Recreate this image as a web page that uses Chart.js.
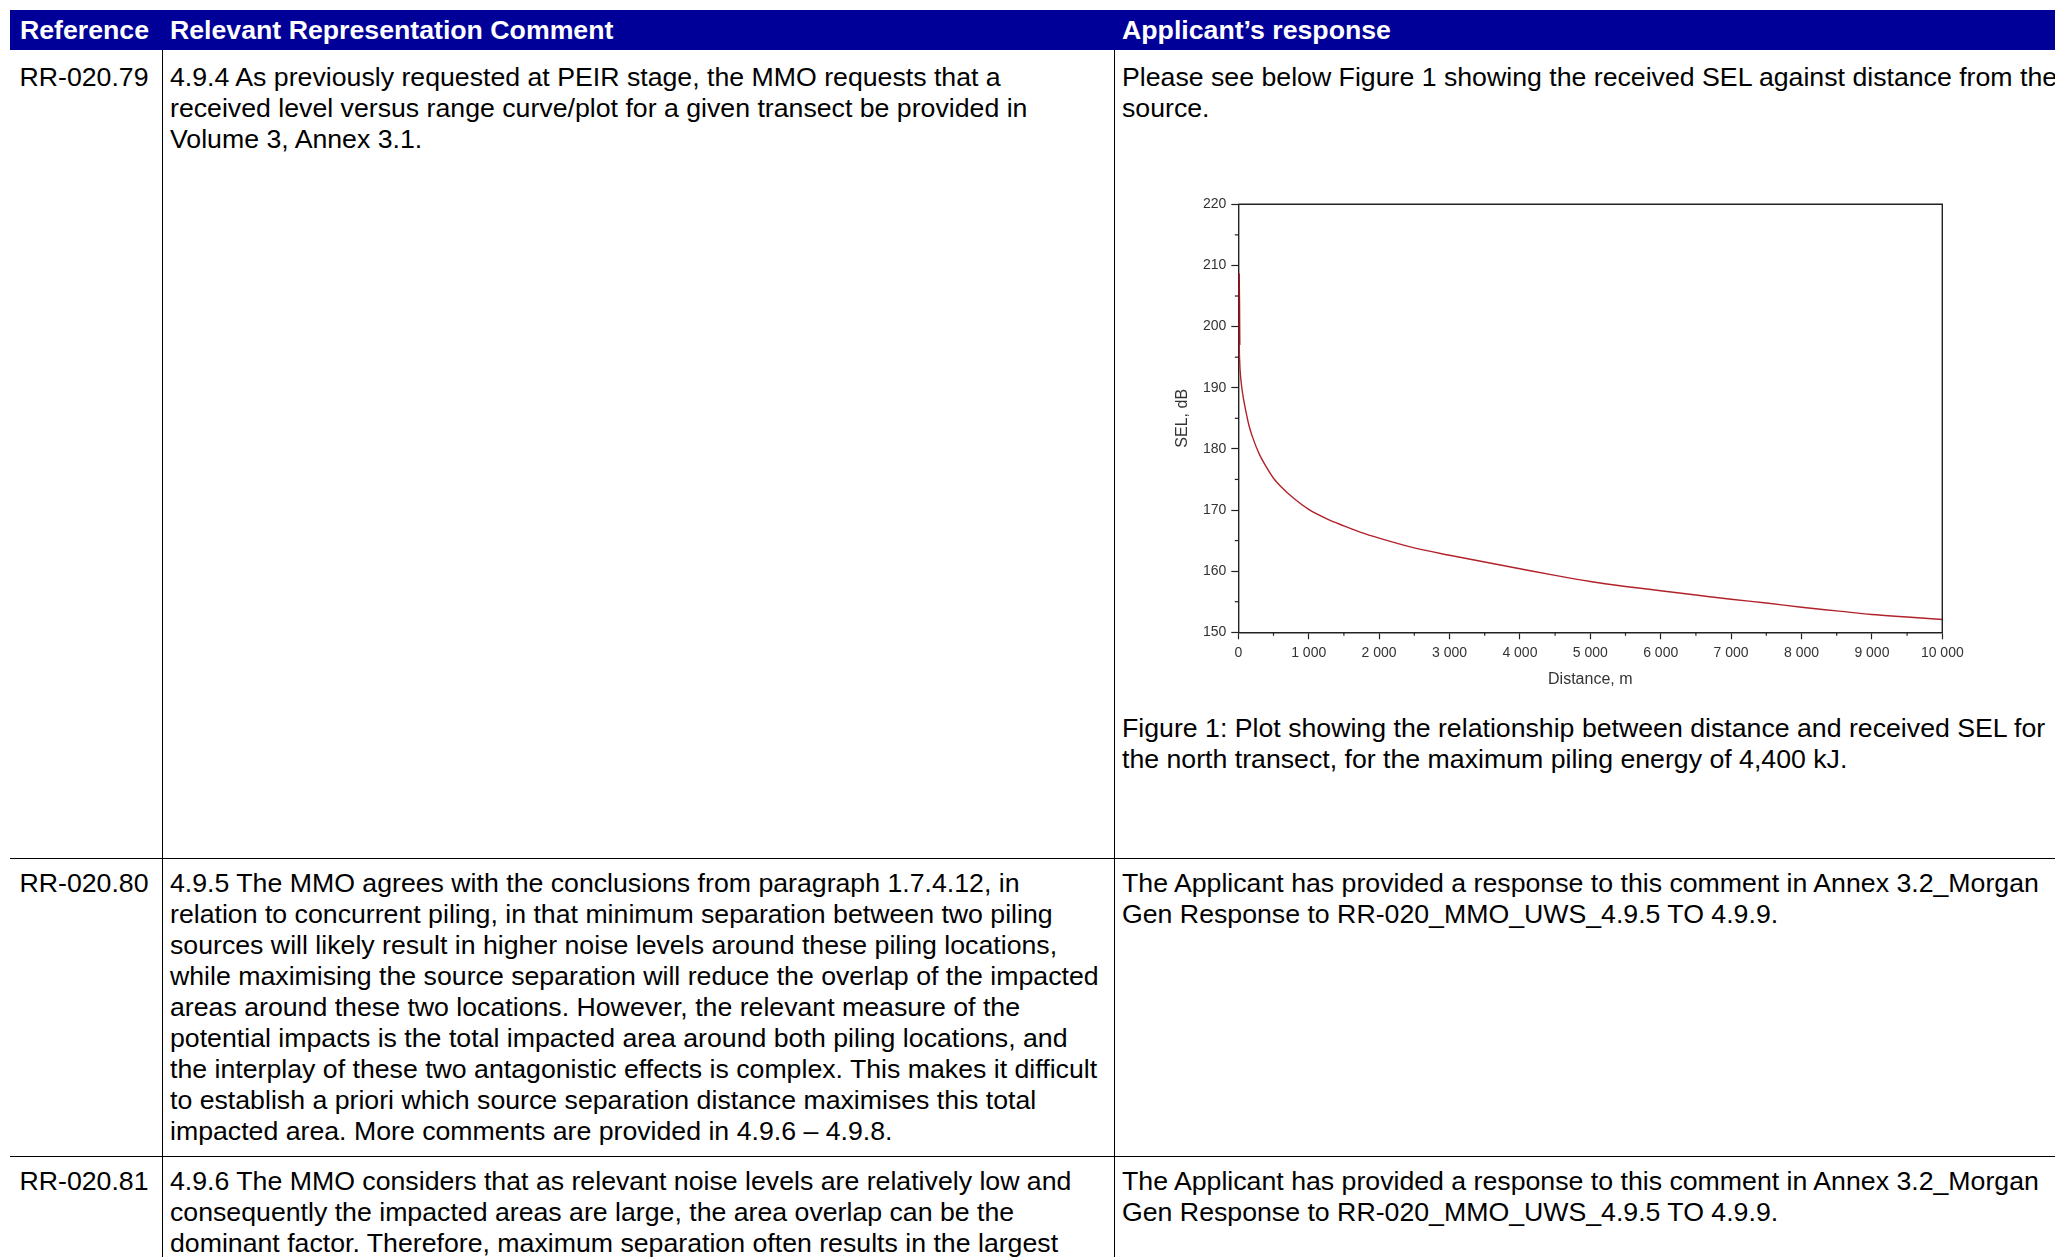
<!DOCTYPE html>
<html>
<head>
<meta charset="utf-8">
<script src="https://cdn.jsdelivr.net/npm/chart.js@4.4.0/dist/chart.umd.min.js"></script>
<style>
  html, body { margin: 0; padding: 0; background: #fff; }
  body { width: 2055px; height: 1257px; overflow: hidden; position: relative;
         font-family: "Liberation Sans", Arial, sans-serif; color: #000; }
  .hdr { position: absolute; left: 10px; top: 10px; width: 2100px; height: 40px; background: #000099; }
  .hdr span { position: absolute; top: 0; line-height: 40px; font-size: 26.7px; font-weight: bold; color: #fff; white-space: pre; }
  .txt { position: absolute; font-size: 26.7px; line-height: 31px; white-space: pre; }
  .vline { position: absolute; width: 1.3px; background: #000; top: 50px; height: 1220px; }
  .hline { position: absolute; height: 1.3px; background: #000; left: 10px; width: 2100px; }
  #wrap { position: absolute; left: 1160px; top: 185px; width: 830px; height: 520px; }
</style>
</head>
<body>
<div class="hdr">
  <span style="left:10px">Reference</span>
  <span style="left:160px">Relevant Representation Comment</span>
  <span style="left:1112px">Applicant’s response</span>
</div>
<div class="vline" style="left:162px"></div>
<div class="vline" style="left:1113.5px"></div>
<div class="hline" style="top:858px"></div>
<div class="hline" style="top:1155.5px"></div>

<div class="txt" style="left:19.5px; top:62px">RR-020.79</div>
<div class="txt" style="left:170px; top:62px">4.9.4 As previously requested at PEIR stage, the MMO requests that a
received level versus range curve/plot for a given transect be provided in
Volume 3, Annex 3.1.</div>
<div class="txt" style="left:1122px; top:62px">Please see below Figure 1 showing the received SEL against distance from the
source.</div>
<div class="txt" style="left:1122px; top:713px">Figure 1: Plot showing the relationship between distance and received SEL for
the north transect, for the maximum piling energy of 4,400 kJ.</div>

<div class="txt" style="left:19.5px; top:868px">RR-020.80</div>
<div class="txt" style="left:170px; top:868px">4.9.5 The MMO agrees with the conclusions from paragraph 1.7.4.12, in
relation to concurrent piling, in that minimum separation between two piling
sources will likely result in higher noise levels around these piling locations,
while maximising the source separation will reduce the overlap of the impacted
areas around these two locations. However, the relevant measure of the
potential impacts is the total impacted area around both piling locations, and
the interplay of these two antagonistic effects is complex. This makes it difficult
to establish a priori which source separation distance maximises this total
impacted area. More comments are provided in 4.9.6 – 4.9.8.</div>
<div class="txt" style="left:1122px; top:868px">The Applicant has provided a response to this comment in Annex 3.2_Morgan
Gen Response to RR-020_MMO_UWS_4.9.5 TO 4.9.9.</div>

<div class="txt" style="left:19.5px; top:1165.5px">RR-020.81</div>
<div class="txt" style="left:170px; top:1165.5px">4.9.6 The MMO considers that as relevant noise levels are relatively low and
consequently the impacted areas are large, the area overlap can be the
dominant factor. Therefore, maximum separation often results in the largest</div>
<div class="txt" style="left:1122px; top:1165.5px">The Applicant has provided a response to this comment in Annex 3.2_Morgan
Gen Response to RR-020_MMO_UWS_4.9.5 TO 4.9.9.</div>

<div id="wrap"><canvas id="grafica" width="830" height="520"></canvas></div>

<script>
// Datos (distancia en m, SEL en dB)
const distancias = [5, 10, 14, 20, 30, 50, 75, 100, 150, 200, 300, 400, 500, 600, 800, 1000,
  1250, 1500, 1750, 2000, 2500, 3000, 3500, 4000, 4500, 5000, 5500, 6000, 6500,
  7000, 7500, 8000, 8500, 9000, 9500, 10000];
const valoresSEL = [208.7, 204.0, 197.0, 194.2, 192.2, 190.0, 188.1, 186.6, 183.9, 182.0,
  179.1, 177.0, 175.2, 173.9, 171.8, 170.1, 168.6, 167.4, 166.3, 165.4, 163.8, 162.6,
  161.5, 160.4, 159.3, 158.3, 157.5, 156.8, 156.1, 155.4, 154.8, 154.1, 153.5, 152.9,
  152.5, 152.1];
const etiquetasX = ['0', '1 000', '2 000', '3 000', '4 000', '5 000', '6 000', '7 000', '8 000', '9 000', '10 000'];
const etiquetasY = ['150', '160', '170', '180', '190', '200', '210', '220'];

Chart.defaults.font.family = '"Liberation Sans", Arial, sans-serif';
Chart.defaults.color = '#333';

// marco superior/derecho y marcas menores
const marcoPlugin = {
  id: 'marco',
  afterDraw(chart) {
    const { ctx, chartArea: a, scales } = chart;
    ctx.save();
    ctx.strokeStyle = '#222';
    ctx.lineWidth = 1.4;
    ctx.beginPath();
    ctx.moveTo(a.left, a.top); ctx.lineTo(a.right, a.top); ctx.lineTo(a.right, a.bottom);
    ctx.stroke();
    ctx.lineWidth = 1.2;
    const xt = scales.x.ticks;
    for (let i = 0; i < xt.length - 1; i++) {
      const px = scales.x.getPixelForValue((xt[i].value + xt[i + 1].value) / 2);
      ctx.beginPath(); ctx.moveTo(px, a.bottom); ctx.lineTo(px, a.bottom + 3.5); ctx.stroke();
    }
    const yt = scales.y.ticks;
    for (let i = 0; i < yt.length - 1; i++) {
      const py = scales.y.getPixelForValue((yt[i].value + yt[i + 1].value) / 2);
      ctx.beginPath(); ctx.moveTo(a.left, py); ctx.lineTo(a.left - 3.5, py); ctx.stroke();
    }
    ctx.restore();
  }
};

const ctx = document.getElementById('grafica').getContext('2d');
const myChart = new Chart(ctx, {
  type: 'line',
  data: {
    datasets: [{
      data: distancias.map((d, i) => ({ x: d, y: valoresSEL[i] })),
      borderColor: 'rgb(178, 34, 42)',
      borderWidth: 1.4,
      pointRadius: 0,
      cubicInterpolationMode: 'monotone',
      fill: false,
      segment: {
        borderWidth: c => (c.p0DataIndex < 2 ? 2.4 : 1.4),
        borderColor: c => (c.p0DataIndex < 2 ? 'rgb(150, 20, 30)' : 'rgb(178, 34, 42)')
      }
    }]
  },
  options: {
    responsive: false,
    animation: false,
    layout: { padding: { left: 0, top: 19.3, right: 47.7, bottom: 10.7 } },
    plugins: { legend: { display: false }, tooltip: { enabled: false } },
    scales: {
      x: {
        type: 'linear', min: 0, max: 10000,
        afterFit: s => { s.height = 62; },
        ticks: {
          stepSize: 1000, padding: 5, maxRotation: 0, autoSkip: false,
          font: { size: 14 }, color: '#333',
          callback: (v) => etiquetasX[Math.round(v / 1000)]
        },
        grid: { drawOnChartArea: false, tickLength: 7, tickColor: '#222', tickWidth: 1.2 },
        border: { color: '#222', width: 1.4 },
        title: { display: true, text: 'Distance, m', font: { size: 16 }, color: '#333', padding: { top: 0, bottom: 4.7 } }
      },
      y: {
        min: 150, max: 220,
        afterFit: s => { s.width = 78.3; },
        ticks: {
          stepSize: 10, padding: 5, font: { size: 14 }, color: '#333',
          callback: (v) => etiquetasY[Math.round((v - 150) / 10)]
        },
        grid: { drawOnChartArea: false, tickLength: 7, tickColor: '#222', tickWidth: 1.2 },
        border: { color: '#222', width: 1.4 },
        title: { display: true, text: 'SEL, dB', font: { size: 16 }, color: '#333', padding: { top: 13.4, bottom: 0 } }
      }
    }
  },
  plugins: [marcoPlugin]
});
</script>
</body>
</html>
